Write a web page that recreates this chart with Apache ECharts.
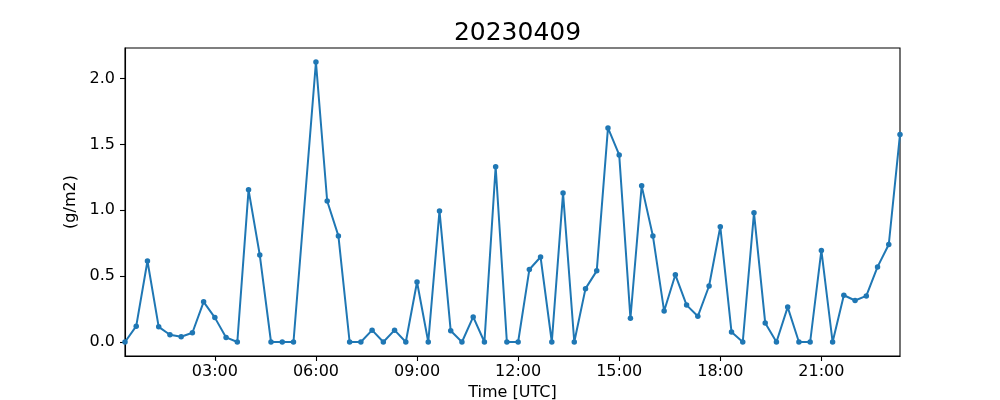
<!DOCTYPE html>
<html>
<head>
<meta charset="utf-8">
<script src="https://cdn.jsdelivr.net/npm/echarts@6/dist/echarts.min.js"></script>
<style>html,body{margin:0;padding:0;background:#fff;}#c{width:1000px;height:400px;}</style>
</head>
<body>
<div id="c"></div>
<script>
const titleText = "20230409";
const times = ["00:20","00:40","01:00","01:20","01:40","02:00","02:20","02:40","03:00","03:20","03:40","04:00","04:20","04:40","05:00","05:20","06:00","06:20","06:40","07:00","07:20","07:40","08:00","08:20","08:40","09:00","09:20","09:40","10:00","10:20","10:40","11:00","11:20","11:40","12:00","12:20","12:40","13:00","13:20","13:40","14:00","14:20","14:40","15:00","15:20","15:40","16:00","16:20","16:40","17:00","17:20","17:40","18:00","18:20","18:40","19:00","19:20","19:40","20:00","20:20","20:40","21:00","21:20","21:40","22:00","22:20","22:40","23:00","23:20"];
const values = [0,0.12,0.615,0.115,0.055,0.04,0.07,0.305,0.185,0.035,0,1.155,0.66,0,0,0,2.125,1.07,0.805,0,0,0.09,0,0.09,0,0.455,0,0.995,0.085,0,0.19,0,1.33,0,0,0.55,0.645,0,1.13,0,0.405,0.54,1.625,1.42,0.18,1.185,0.805,0.235,0.51,0.28,0.195,0.425,0.875,0.075,0,0.98,0.145,0,0.265,0,0,0.695,0,0.355,0.315,0.35,0.57,0.74,1.575];
const xTickLabels = ["03:00","06:00","09:00","12:00","15:00","18:00","21:00"];
const yTickValues = [0, 0.5, 1.0, 1.5, 2.0];

const toMin = s => { const p = s.split(":"); return (+p[0]) * 60 + (+p[1]); };
const pad = n => String(n).padStart(2, "0");
const fmt = m => pad(Math.floor(m / 60)) + ":" + pad(Math.round(m % 60));
const xs = times.map(toMin);
const xTicks = xTickLabels.map(toMin);
const data = xs.map((x, i) => [x, values[i]]);
const vmin = Math.min(...values), vmax = Math.max(...values);
const marg = (vmax - vmin) * 0.05;

const font = "DejaVu Sans";
const chart = echarts.init(document.getElementById("c"), null, {renderer: "canvas"});
chart.setOption({
  animation: false,
  backgroundColor: "#fff",
  title: {
    text: titleText, left: 512.5, textAlign: "center", top: 16,
    textStyle: {fontFamily: font, fontSize: 25, fontWeight: "normal", color: "#000"}
  },
  grid: {left: 125, right: 100, top: 48, bottom: 44, containLabel: false, outerBoundsMode: "none",
         show: true, borderColor: "#000", borderWidth: 1.1, backgroundColor: "transparent"},
  xAxis: {
    type: "value", min: xs[0], max: xs[xs.length - 1],
    name: "Time [UTC]", nameLocation: "middle", nameGap: 27,
    nameTextStyle: {fontFamily: font, fontSize: 16, color: "#000"},
    axisLine: {show: true, onZero: false, lineStyle: {color: "#000", width: 1.1}},
    axisTick: {show: true, length: 5, customValues: xTicks, lineStyle: {color: "#000", width: 1.1}},
    axisLabel: {customValues: xTicks, formatter: v => fmt(v), fontFamily: font, fontSize: 16, color: "#000", margin: 8},
    splitLine: {show: false}
  },
  yAxis: {
    type: "value", min: vmin - marg, max: vmax + marg,
    name: "(g/m2)", nameLocation: "middle", nameGap: 38, nameRotate: 90,
    nameTextStyle: {fontFamily: font, fontSize: 16, color: "#000"},
    axisLine: {show: true, onZero: false, lineStyle: {color: "#000", width: 1.1}},
    axisTick: {show: true, length: 5, customValues: yTickValues, lineStyle: {color: "#000", width: 1.1}},
    axisLabel: {customValues: yTickValues, formatter: v => v.toFixed(1), fontFamily: font, fontSize: 16, color: "#000", margin: 10},
    splitLine: {show: false}
  },
  series: [{
    type: "line", data: data, symbol: "circle", symbolSize: 5.5, showSymbol: true,
    lineStyle: {color: "#1f77b4", width: 2}, itemStyle: {color: "#1f77b4"}
  }]
});
</script>
</body>
</html>
